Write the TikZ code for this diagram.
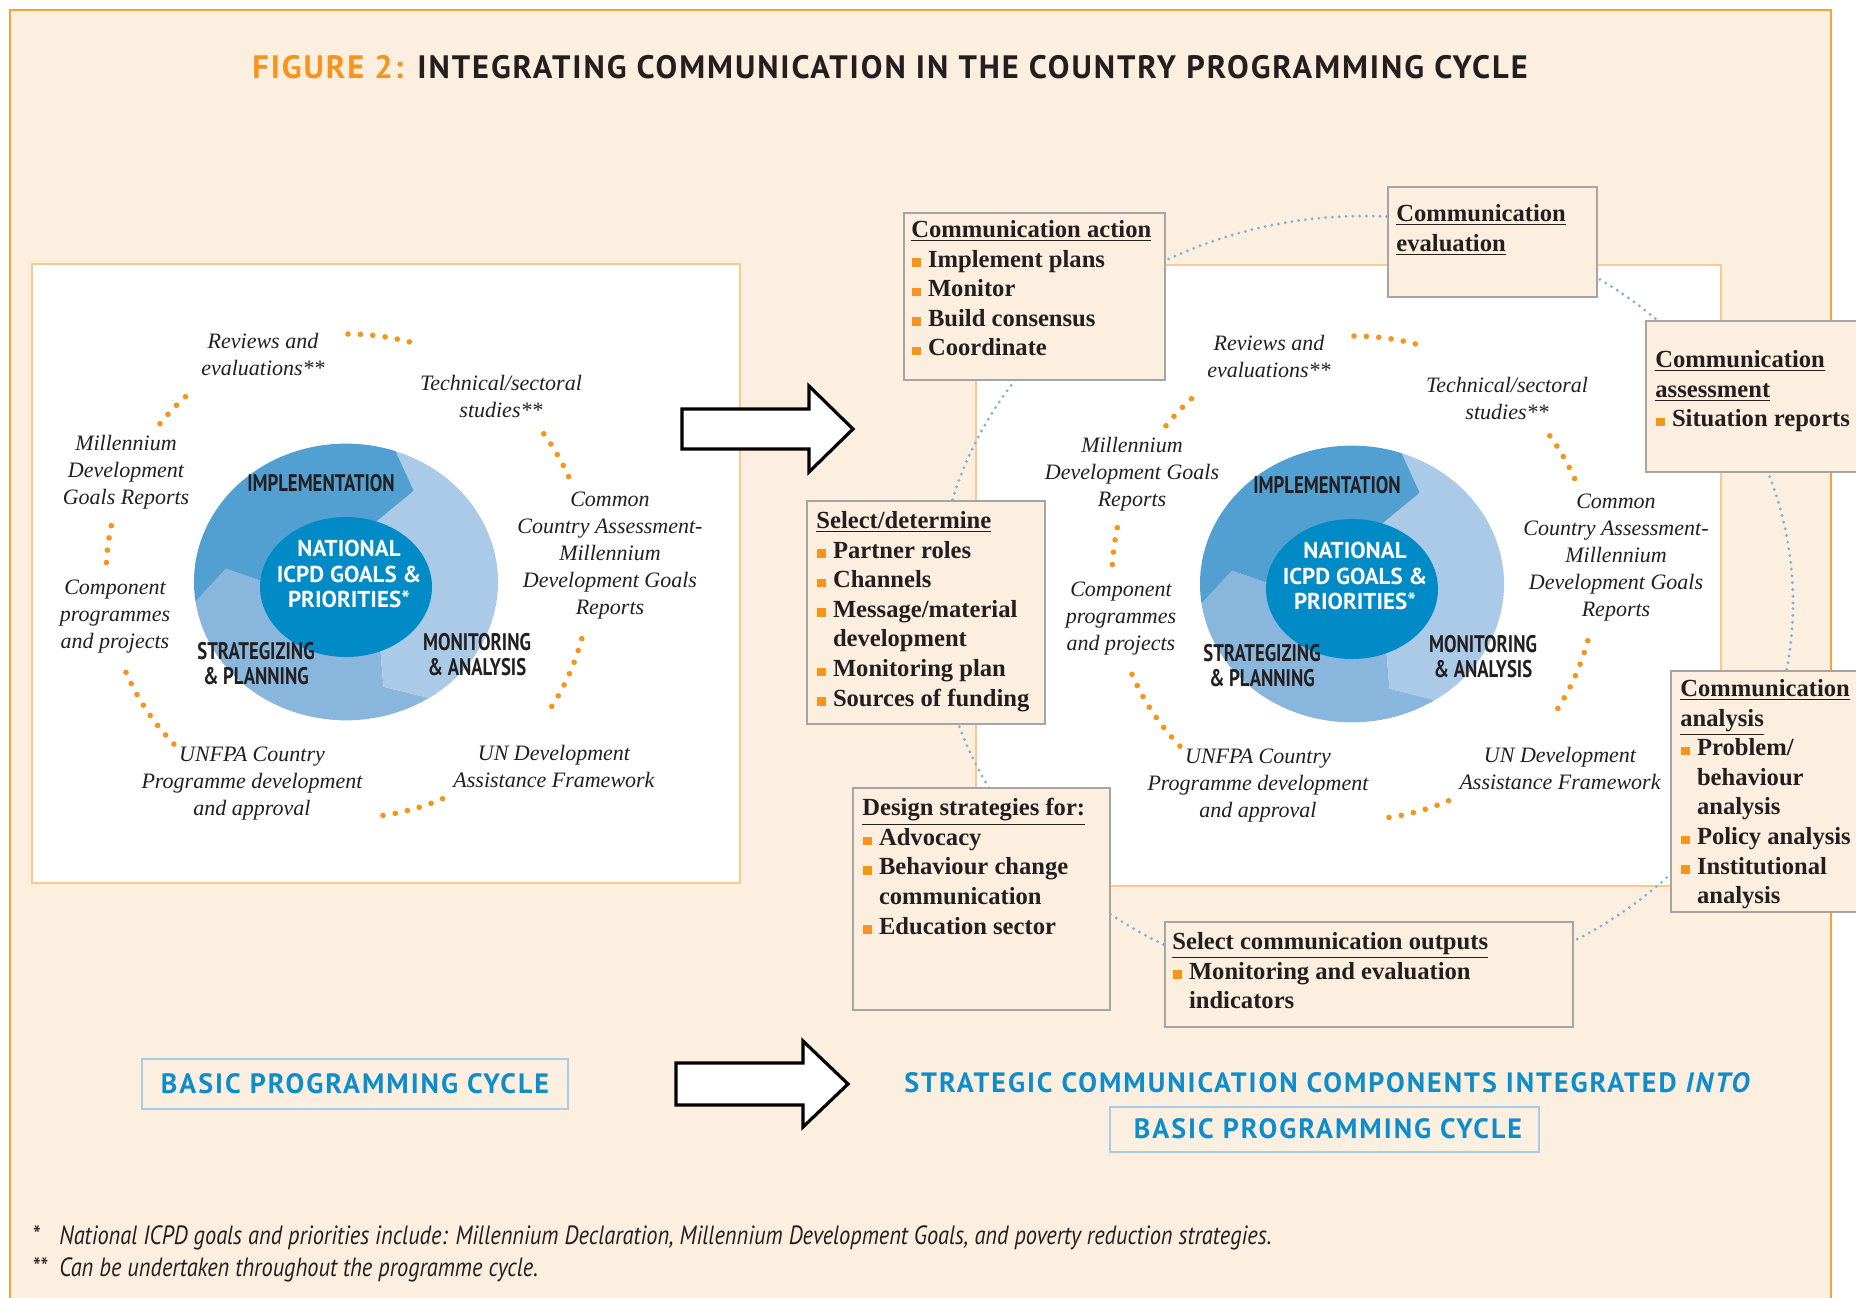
\documentclass[tikz,border=0pt]{standalone}
\usepackage{fontspec}
\setmainfont{Liberation Serif}
\setsansfont{PT Sans}
\newfontfamily\sanswide[LetterSpace=6]{PT Sans}
\newfontfamily\sansspaced[LetterSpace=7]{PT Sans}
\newfontfamily\sanscond[FakeStretch=0.78]{PT Sans}
\newfontfamily\notecond[FakeStretch=0.85]{PT Sans}
\usetikzlibrary{calc}
\usetikzlibrary{positioning}

\definecolor{paper}{HTML}{FDEFE0}
\definecolor{frameorange}{HTML}{F4A340}
\definecolor{panelline}{HTML}{FAC98C}
\definecolor{dotorange}{HTML}{F7941D}
\definecolor{dotblue}{HTML}{7FB2DF}
\definecolor{boxline}{HTML}{A5A5A5}
\definecolor{ringdark}{HTML}{529FD1}
\definecolor{ringlight}{HTML}{ABCAE7}
\definecolor{ringmid}{HTML}{88B6DC}
\definecolor{hubblue}{HTML}{008BC6}
\definecolor{inkblack}{HTML}{231F20}
\definecolor{titleblue}{HTML}{0D8ECB}
\definecolor{labelline}{HTML}{A8CBE8}

\newcommand{\bul}{\makebox[8.3pt][l]{\hspace{0.4pt}\textcolor{dotorange}{\rule[0.2pt]{4.2pt}{4.2pt}}}}
\newcommand{\bulsp}{\hspace*{8.3pt}}

\tikzset{every node/.style={align=center},
         cyclelabel/.style={font=\itshape\fontsize{11}{13.5}\selectfont, text=inkblack, inner sep=0pt},
         phaselabel/.style={font=\sanscond\bfseries\fontsize{12}{12.5}\selectfont, text=inkblack, inner sep=0pt},
         hubtext/.style={font=\sffamily\bfseries\fontsize{11.5}{12.8}\selectfont, text=white, inner sep=0pt},
         commbox/.style={draw=boxline, fill=paper, line width=0.8pt, anchor=north west, inner sep=0pt},
         commtext/.style={font=\bfseries\fontsize{12.3}{14.8}\selectfont, text=inkblack, align=left, anchor=north west, inner sep=0pt},
         orangedots/.style={dotorange, line width=2.8pt, line cap=round, dash pattern=on 0pt off 6.2pt},
         bluedots/.style={dotblue, line width=1.6pt, line cap=round, dash pattern=on 0pt off 3.4pt},
         bigarrow/.style={draw=black, fill=white, line width=1.6pt},
         cyclename/.style={font=\sansspaced\bfseries\fontsize{14}{16}\selectfont, text=titleblue, inner sep=0pt},
         namebox/.style={draw=labelline, fill=paper, line width=1pt},
         footnote/.style={font=\notecond\itshape\fontsize{13.2}{15}\selectfont, text=inkblack, anchor=west, inner sep=0pt}}

% one arrow-shaped piece of the ring: colour, start angle, end angle
\newcommand{\ringpart}[3]{%
  \fill[#1] (#2:152) arc[start angle=#2, end angle=#3, x radius=76pt, y radius=69.2pt]
    -- ({#3-15}:121) -- (#3:60) arc[start angle=#3, end angle=#2, x radius=30pt, y radius=27.3pt]
    -- ({#2-15}:121) -- cycle;}

% the programming cycle: name prefix, centre, MDG label
\newcommand{\progcycle}[3]{%
  \begin{scope}[shift={#2}]
    \begin{scope}[y=0.455pt]
      \ringpart{ringmid}{-57}{-172}
      \ringpart{ringlight}{71}{-57}
      \ringpart{ringdark}{188}{71}
    \end{scope}
    \fill[hubblue] (0,5) ellipse[x radius=43pt, y radius=35pt];
    \node[hubtext] (#1hub) at (3,-8) {NATIONAL\\ICPD GOALS \&\\PRIORITIES*};
    \node[phaselabel] (#1impl) at (-25,-99) {IMPLEMENTATION};
    \node[phaselabel] (#1strat) at (-90,82) {STRATEGIZING\\\& PLANNING};
    \node[phaselabel] (#1mon) at (131,73) {MONITORING\\\& ANALYSIS};

    \node[cyclelabel] (#1rev) at (-83,-228) {Reviews and\\evaluations**};
    \node[cyclelabel] (#1tech) at (155,-186) {Technical/sectoral\\studies**};
    \node[cyclelabel] (#1cca) at (264,-26) {Common\\Country Assessment-\\Millennium\\Development Goals\\Reports};
    \node[cyclelabel] (#1undaf) at (208,184) {UN Development\\Assistance Framework};
    \node[cyclelabel] (#1unfpa) at (-94,202) {UNFPA Country\\Programme development\\and approval};
    \node[cyclelabel] (#1comp) at (-231,35) {Component\\programmes\\and projects};
    \node[cyclelabel] (#1mdg) at (-220,-110) {#3};

    \begin{scope}[shift={(2,-6)}, y=0.5pt]
      \draw[orangedots] (90:242) arc[start angle=90, end angle=74, radius=121pt];
      \draw[orangedots] (36:242) arc[start angle=36, end angle=22, radius=121pt];
      \draw[orangedots] (-15:242) arc[start angle=-15, end angle=-33, radius=121pt];
      \draw[orangedots] (-67:242) arc[start angle=-67, end angle=-83, radius=121pt];
      \draw[orangedots] (-136:242) arc[start angle=-136, end angle=-157, radius=121pt];
      \draw[orangedots] (168:242) arc[start angle=168, end angle=178, radius=121pt];
      \draw[orangedots] (141:242) arc[start angle=141, end angle=130, radius=121pt];
    \end{scope}
  \end{scope}}

\begin{document}
\begin{tikzpicture}[x=0.5pt, y=-0.5pt]
  \useasboundingbox (0,0) rectangle (1856,1297);
  \draw[frameorange, line width=1.2pt, fill=paper] (10,10) rectangle (1831,1330);

  \node[anchor=west, inner sep=0pt, font=\sanswide\bfseries\fontsize{16.2}{20}\selectfont, text=inkblack] (title) at (252,67)
    {\textcolor{dotorange}{FIGURE 2:}\hspace{7pt}INTEGRATING COMMUNICATION IN THE COUNTRY PROGRAMMING CYCLE};

  % panels
  \draw[panelline, line width=0.8pt, fill=white] (32,264) rectangle (740,883);
  \draw[panelline, line width=0.8pt, fill=white] (976,265) rectangle (1721,886);

  \progcycle{L}{(346,582)}{Millennium\\Development\\Goals Reports}
  \progcycle{R}{(1352,584)}{Millennium\\Development Goals\\Reports}

  % communication loop behind the boxes
  \draw[bluedots] (1365,603) ellipse[x radius=214pt, y radius=193.5pt];

  \draw[bigarrow] (682,409) -- (809,409) -- (809,386) -- (853,429) -- (809,472) -- (809,449) -- (682,449) -- cycle;
  \draw[bigarrow] (676,1063) -- (803,1063) -- (803,1041) -- (848,1084) -- (803,1127) -- (803,1105) -- (676,1105) -- cycle;

  \node[commbox, minimum width=130.5pt, minimum height=83.5pt] (act) at (903,212) {};
  \node[commtext] (acttext) at (911,220) {\underline{Communication action}\\\bul Implement plans\\\bul Monitor\\\bul Build consensus\\\bul Coordinate};

  \node[commbox, minimum width=104.5pt, minimum height=55pt] (eval) at (1387,186) {};
  \node[commtext] (evaltext) at (1396,204) {\underline{Communication}\\\underline{evaluation}};

  \node[commbox, minimum width=115pt, minimum height=75.5pt] (assess) at (1645,320) {};
  \node[commtext] (assesstext) at (1655,350) {\underline{Communication}\\\underline{assessment}\\\bul Situation reports};

  \node[commbox, minimum width=105pt, minimum height=120.5pt] (analysis) at (1670,670) {};
  \node[commtext] (analysistext) at (1680,679) {\underline{Communication}\\\underline{analysis}\\\bul Problem/\\\bulsp behaviour\\\bulsp analysis\\\bul Policy analysis\\\bul Institutional\\\bulsp analysis};

  \node[commbox, minimum width=204pt, minimum height=52.5pt] (outputs) at (1164,921) {};
  \node[commtext] (outputstext) at (1172,932) {\underline{Select communication outputs}\\\bul Monitoring and evaluation\\\bulsp indicators};

  \node[commbox, minimum width=128.5pt, minimum height=111pt] (design) at (852,787) {};
  \node[commtext] (designtext) at (862,798) {\underline{Design strategies for:}\\\bul Advocacy\\\bul Behaviour change\\\bulsp communication\\\bul Education sector};

  \node[commbox, minimum width=119pt, minimum height=111.5pt] (select) at (806,500) {};
  \node[commtext] (selecttext) at (816,511) {\underline{Select/determine}\\\bul Partner roles\\\bul Channels\\\bul Message/material\\\bulsp development\\\bul Monitoring plan\\\bul Sources of funding};

  % captions under the two cycles
  \node[namebox, minimum width=213pt, minimum height=25pt] (basicL) at (355,1084) {};
  \node[cyclename] (basicLtext) at (355,1084) {BASIC PROGRAMMING CYCLE};
  \node[cyclename] (strategic) at (1328,1083) {STRATEGIC COMMUNICATION COMPONENTS INTEGRATED \textit{INTO}};
  \node[namebox, minimum width=214.5pt, minimum height=22.5pt] (basicR) at (1324,1129) {};
  \node[cyclename] (basicRtext) at (1328,1129) {BASIC PROGRAMMING CYCLE};

  \node[footnote] (note1) at (32,1238) {\makebox[13.5pt][l]{*}National ICPD goals and priorities include: Millennium Declaration, Millennium Development Goals, and poverty reduction strategies.};
  \node[footnote] (note2) at (32,1270) {\makebox[13.5pt][l]{**}Can be undertaken throughout the programme cycle.};
\end{tikzpicture}
\end{document}
